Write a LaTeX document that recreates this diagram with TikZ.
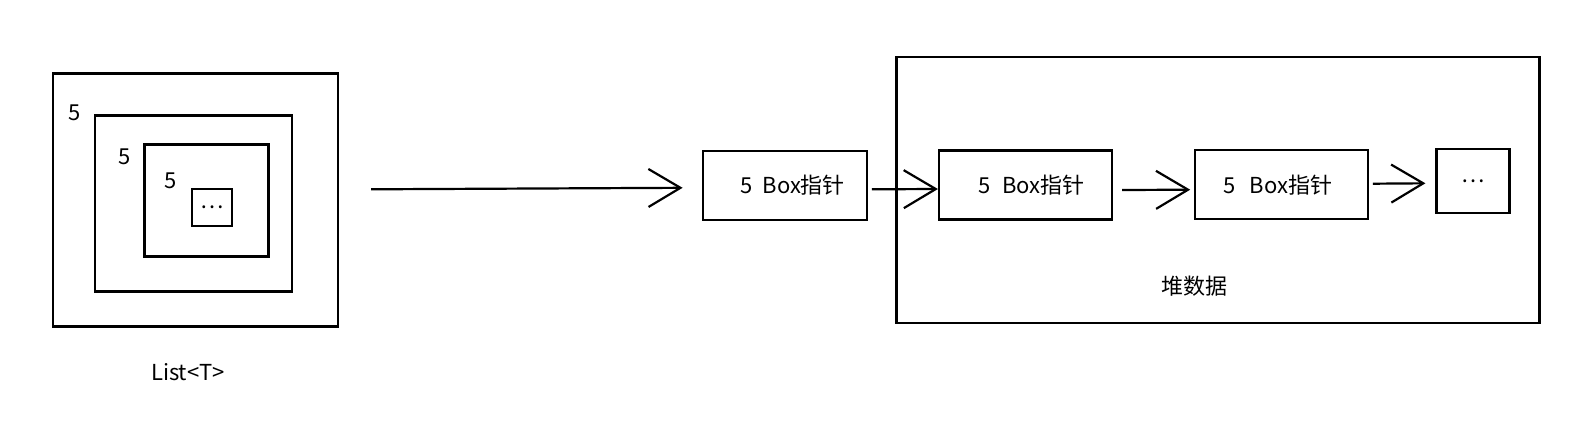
\documentclass[tikz,border=0pt]{standalone}
\usepackage{fontspec}
\setmainfont{Noto Sans CJK SC}
\usetikzlibrary{arrows.meta,calc}
\begin{document}
\begin{tikzpicture}[x=1pt,y=-1pt,
  box/.style={draw=black,line width=2.2pt,inner sep=0pt,font=\fontsize{22}{26}\selectfont},
  lbl/.style={inner sep=0pt,font=\fontsize{22}{26}\selectfont},
  arr/.style={line width=2.2pt,-{Straight Barb[length=32pt,width=38pt,line width=2.2pt]}}]
\useasboundingbox[fill=white] (0,0) rectangle (1594,439);
% List<T> nested boxes
\node[box,minimum width=285pt,minimum height=253pt] (o1) at (195.3,200) {};
\node[box,minimum width=197pt,minimum height=176pt] (o2) at (193.8,203.5) {};
\node[box,minimum width=124pt,minimum height=112pt] (o3) at (206.5,200.5) {};
\node[box,minimum width=40pt,minimum height=37pt] (o4) at (212.2,207.3) {…};
\node[lbl] (n1) at (75,113) {5};
\node[lbl] (n2) at (125,157) {5};
\node[lbl] (n3) at (171,181) {5};
\node[lbl] (cap1) at (188,372) {List<T>};
% heap container
\node[box,minimum width=643pt,minimum height=266pt] (heap) at (1218,190) {};
\node[lbl] (cap2) at (1194.5,286) {堆数据};
% pointer boxes
\node[box,minimum width=164pt,minimum height=69pt] (b1) at (784.7,185.3) {\hspace*{16pt}5\hspace{10pt}Box指针};
\node[box,minimum width=173pt,minimum height=69pt] (b2) at (1025.5,185) {\hspace*{12pt}5\hspace{12pt}Box指针};
\node[box,minimum width=173pt,minimum height=69pt] (b3) at (1281.8,184.7) {\hspace*{-8pt}5\hspace{14pt}Box指针};
\node[box,minimum width=73pt,minimum height=64pt] (b4) at (1473,181.3) {…};
% connectors
\coordinate (start) at (371,189.3);
\draw[arr] (start) -- ([shift={(-19,2.5)}]b1.west);
\draw[arr] ([shift={(4,4)}]b1.east) -- ([shift={(0,4)}]b2.west);
\draw[arr] ([shift={(9,5)}]b2.east) -- ([shift={(-4,5)}]b3.west);
\draw[arr] ([shift={(3.5,-1)}]b3.east) -- ([shift={(-10,2)}]b4.west);
\end{tikzpicture}
\end{document}
